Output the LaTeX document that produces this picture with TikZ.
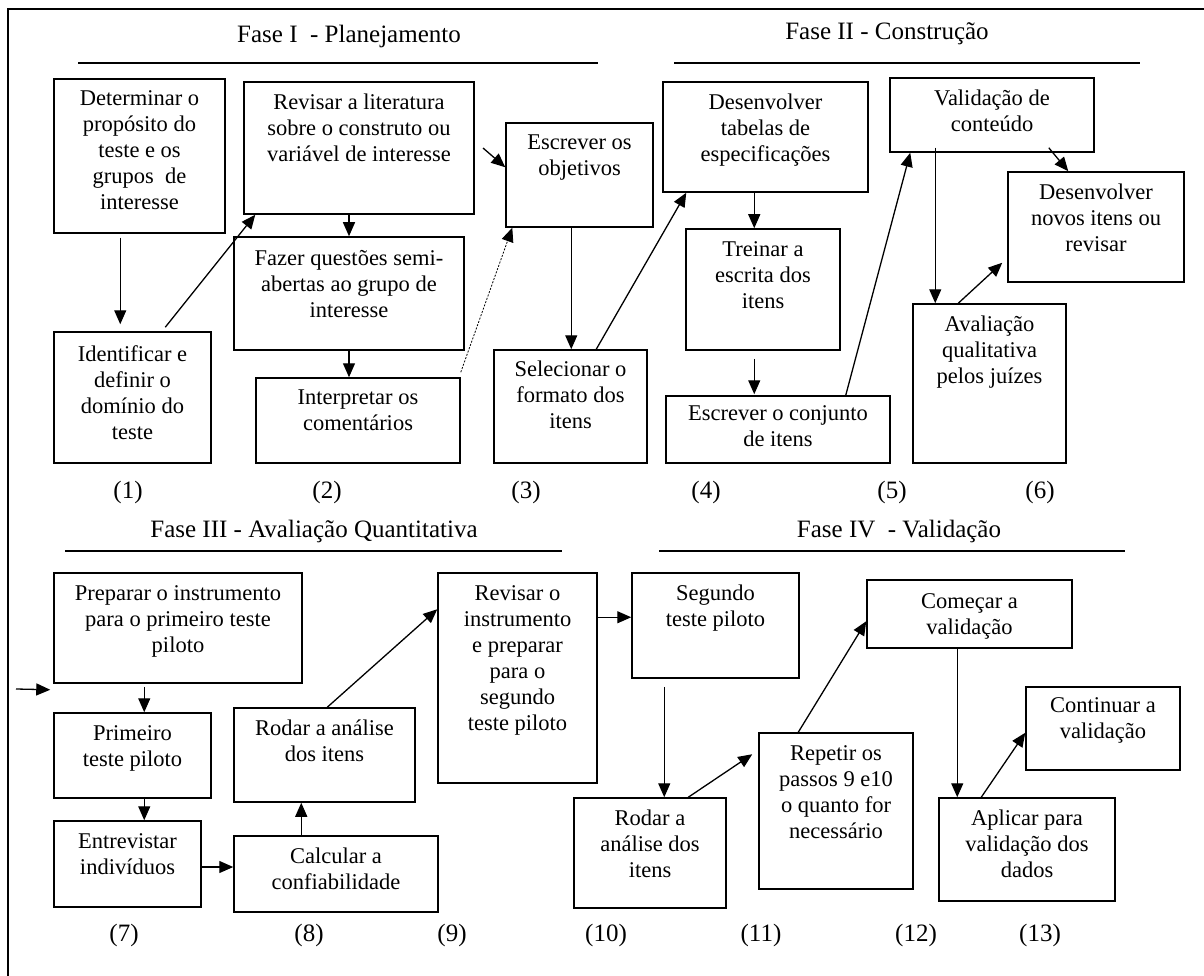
\documentclass[tikz,border=0pt]{standalone}
\usepackage{fontspec}
\setmainfont{Liberation Serif}
\usetikzlibrary{arrows.meta,calc}
\tikzset{
 boxst/.style={draw, line width=1.5pt, rectangle, inner sep=0pt},
 txt/.style={font=\fontsize{22.5}{26}\selectfont, align=center, inner sep=0pt, anchor=north, execute at begin node=\strut},
 ttl/.style={font=\fontsize{25}{30}\selectfont, inner sep=0pt, anchor=base},
 lbl/.style={font=\fontsize{25}{30}\selectfont, inner sep=0pt},
 arr/.style={line width=1.3pt, -{Triangle[length=14pt,width=12pt]}},
 darr/.style={line width=0.8pt, dash pattern=on 2pt off 1.5pt, -{Triangle[length=14pt,width=12pt]}},
 rulest/.style={line width=1.5pt},
}
\newcommand{\mkbox}[7]{%
  \node[boxst, minimum width={(#4)-(#2)}, minimum height={(#5)-(#3)}] (#1) at ({((#2)+(#4))/2},{((#3)+(#5))/2}) {};
  \node[txt] (#1t) at ({((#2)+(#4))/2},{(#6)-12}) {#7};
}
\begin{document}
\begin{tikzpicture}[x=1pt,y=-1pt]
\useasboundingbox (0,0) rectangle (1204,976);
\draw[line width=1.5pt] (8,976) -- (8,9) -- (1204,9);

% titles and rules
\node[ttl] (t1) at (349,43) {Fase I~ - Planejamento};
\node[ttl] (t2) at (887,40) {Fase II - Construção};
\node[ttl] (t3) at (314,537) {Fase III - Avaliação Quantitativa};
\node[ttl] (t4) at (899,537) {Fase IV~ - Validação};
\draw[rulest] (78,63) -- (598,63);
\draw[rulest] (674,63) -- (1140,63);
\draw[rulest] (65,551) -- (562,551);
\draw[rulest] (659,551) -- (1125,551);

% boxes
\mkbox{b1}{54}{79}{225}{233}{102}{Determinar o\\propósito do\\teste e os\\grupos~ de\\interesse}
\mkbox{b1b}{54}{332}{211}{463}{357}{Identificar e\\definir o\\domínio do\\teste}
\mkbox{b2a}{244}{82}{474}{214}{106}{Revisar a literatura\\sobre o construto ou\\variável de interesse}
\mkbox{b2b}{234}{237}{464}{350}{262}{Fazer questões semi-\\abertas ao grupo de\\interesse}
\mkbox{b2c}{256}{378}{460}{463}{402}{Interpretar os\\comentários}
\mkbox{b3a}{506}{123}{653}{227}{147}{Escrever os\\objetivos}
\mkbox{b3b}{494}{350}{647}{463}{373}{Selecionar o\\formato dos\\itens}
\mkbox{b4a}{663}{82}{868}{192}{106}{Desenvolver\\tabelas de\\especificações}
\mkbox{b4b}{686}{229}{840}{350}{253}{Treinar a\\escrita dos\\itens}
\mkbox{b4c}{666}{396}{890}{463}{417}{Escrever o conjunto\\de itens}
\mkbox{b5a}{890}{78}{1094}{152}{102}{Validação de\\conteúdo}
\mkbox{b6}{1008}{172}{1184}{282}{196}{Desenvolver\\novos itens ou\\revisar}
\mkbox{b5b}{913}{304}{1066}{463}{328}{Avaliação\\qualitativa\\pelos juízes}
\mkbox{b7a}{54}{573}{302}{683}{597}{Preparar o instrumento\\para o primeiro teste\\piloto}
\mkbox{b7b}{54}{713}{211}{798}{737}{Primeiro\\teste piloto}
\mkbox{b7c}{54}{821}{201}{907}{845}{Entrevistar\\indivíduos}
\mkbox{b8a}{234}{708}{415}{802}{732}{Rodar a análise\\dos itens}
\mkbox{b8b}{234}{836}{438}{912}{860}{Calcular a\\confiabilidade}
\mkbox{b9}{438}{573}{597}{783}{597}{Revisar o\\instrumento\\e preparar\\para o\\segundo\\teste piloto}
\mkbox{b10a}{632}{573}{799}{678}{597}{Segundo\\teste piloto}
\mkbox{b10b}{574}{798}{726}{908}{822}{Rodar a\\análise dos\\itens}
\mkbox{b11}{759}{733}{913}{889}{757}{Repetir os\\passos 9 e10\\o quanto for\\necessário}
\mkbox{b12a}{867}{580}{1072}{648}{605}{Começar a\\validação}
\mkbox{b13a}{1026}{687}{1180}{770}{709}{Continuar a\\validação}
\mkbox{b12b}{939}{798}{1115}{901}{822}{Aplicar para\\validação dos\\dados}

% step labels
\node[lbl] (n1) at (128,492) {(1)};
\node[lbl] (n2) at (327,492) {(2)};
\node[lbl] (n3) at (526,492) {(3)};
\node[lbl] (n4) at (706,492) {(4)};
\node[lbl] (n5) at (892,492) {(5)};
\node[lbl] (n6) at (1040,492) {(6)};
\node[lbl] (n7) at (124,935) {(7)};
\node[lbl] (n8) at (309,935) {(8)};
\node[lbl] (n9) at (452,935) {(9)};
\node[lbl] (n10) at (606,935) {(10)};
\node[lbl] (n11) at (761,935) {(11)};
\node[lbl] (n12) at (916,935) {(12)};
\node[lbl] (n13) at (1040,935) {(13)};

% connectors
\draw[arr] ([xshift=67pt,yshift=-4pt]b1.south west) -- ([xshift=67pt,yshift=7pt]b1b.north west);
\draw[arr] ([xshift=112pt,yshift=4pt]b1b.north west) -- ([xshift=12pt]b2a.south west);
\draw[arr] (b2a.south -| b2b.north) -- (b2b.north);
\draw[arr] (b2b.south) -- (b2b.south |- b2c.north);
\draw[darr] ([yshift=5pt]b2c.north east) -- ([xshift=7pt]b3a.south west);
\coordinate (c1) at (483,148);
\draw[arr] (c1) -- ([yshift=-45pt]b3a.north west);
\draw[arr] ([xshift=66pt]b3a.south west) -- ([xshift=78pt]b3b.north west);
\draw[arr] ([xshift=103pt]b3b.north west) -- ([xshift=24pt]b4a.south west);
\draw[arr] ([xshift=92pt]b4a.south west) -- ([xshift=69pt]b4b.north west);
\draw[arr] ([xshift=69pt,yshift=-8pt]b4b.south west) -- ([xshift=89pt,yshift=1pt]b4c.north west);
\draw[arr] ([xshift=-45pt]b4c.north east) -- ([xshift=21pt]b5a.south west);
\draw[arr] ([xshift=46pt,yshift=5pt]b5a.south west) -- ([xshift=23pt]b5b.north west);
\draw[arr] ([xshift=-46pt,yshift=5pt]b5a.south east) -- ([xshift=61pt]b6.north west);
\draw[arr] ([xshift=46pt]b5b.north west) -- ([xshift=-5pt,yshift=20pt]b6.south west);

\coordinate (c2) at (16,689);
\draw[arr] (c2) -- ([xshift=-3pt,yshift=-6pt]b7a.south west);
\draw[arr] ([xshift=91pt,yshift=-3pt]b7a.south west) -- ([xshift=91pt]b7b.north west);
\draw[arr] ([xshift=91pt]b7b.south west) -- ([xshift=91pt]b7c.north west);
\draw[arr] ([yshift=-3pt]b7c.east) -- ([yshift=-3pt]b7c.east -| b8b.west);
\draw[arr] ([xshift=68pt]b8b.north west) -- ([xshift=68pt]b8a.south west);
\draw[arr] ([xshift=94pt]b8a.north west) -- ([yshift=-37pt]b9.north west);
\draw[arr] ([yshift=-45pt]b9.north east) -- ([yshift=-45pt]b9.north east -| b10a.west);
\draw[arr] ([xshift=33pt,yshift=-8pt]b10a.south west) -- ([xshift=91pt]b10b.north west);
\draw[arr] ([xshift=115pt]b10b.north west) -- ([xshift=-6pt,yshift=-22pt]b11.north west);
\draw[arr] ([xshift=40pt]b11.north west) -- ([yshift=-42pt]b12a.north west);
\draw[arr] ([xshift=91pt]b12a.south west) -- ([xshift=19pt]b12b.north west);
\draw[arr] ([xshift=43pt]b12b.north west) -- ([yshift=38pt]b13a.south west);
\end{tikzpicture}
\end{document}
